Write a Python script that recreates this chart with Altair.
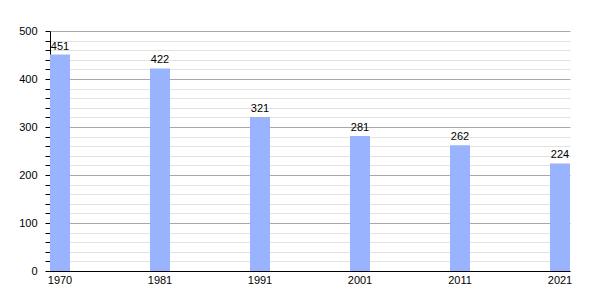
import altair as alt
import pandas as pd

years = ["1970", "1981", "1991", "2001", "2011", "2021"]
population = [451, 422, 321, 281, 262, 224]
y_ticks = [0, 20, 40, 60, 80, 100, 120, 140, 160, 180, 200, 220, 240, 260, 280,
           300, 320, 340, 360, 380, 400, 420, 440, 460, 480, 500]

df = pd.DataFrame({"year": years, "pop": population})

x = alt.X("year:N", sort=years, title=None,
          scale=alt.Scale(paddingInner=0.8, paddingOuter=0),
          axis=alt.Axis(labelAngle=0, ticks=False, labelPadding=3, domainColor="black",
                        labelColor="black", labelFont="Liberation Sans", labelFontSize=11,
                        grid=False))
y = alt.Y("pop:Q", title=None,
          scale=alt.Scale(domain=[0, 500], nice=False),
          axis=alt.Axis(values=y_ticks, tickSize=5, tickColor="black",
                        labelPadding=8, domainColor="black", labelColor="black",
                        labelFont="Liberation Sans", labelFontSize=11,
                        labelOverlap=False,
                        labelExpr="datum.value % 100 === 0 ? datum.label : ''",
                        grid=True,
                        gridColor={"condition": {"test": "datum.value % 100 === 0", "value": "#a8a8a8"},
                                   "value": "#e2e2e2"}))

base = alt.Chart(df).encode(x=x, y=y)
bars = base.mark_bar(color="#99b3ff", opacity=1)
labels = base.mark_text(baseline="bottom", dy=-3, font="Liberation Sans",
                        fontSize=11, color="black").encode(text="pop:Q")

chart = (bars + labels).properties(
    width=520, height=240,
    autosize=alt.AutoSizeParams(type="none"),
    padding={"left": 50, "top": 31, "right": 30, "bottom": 29},
).configure_view(stroke=None).configure_axis(domainWidth=1)

chart.save("out.html", embed_options={"renderer": "svg", "actions": False})
